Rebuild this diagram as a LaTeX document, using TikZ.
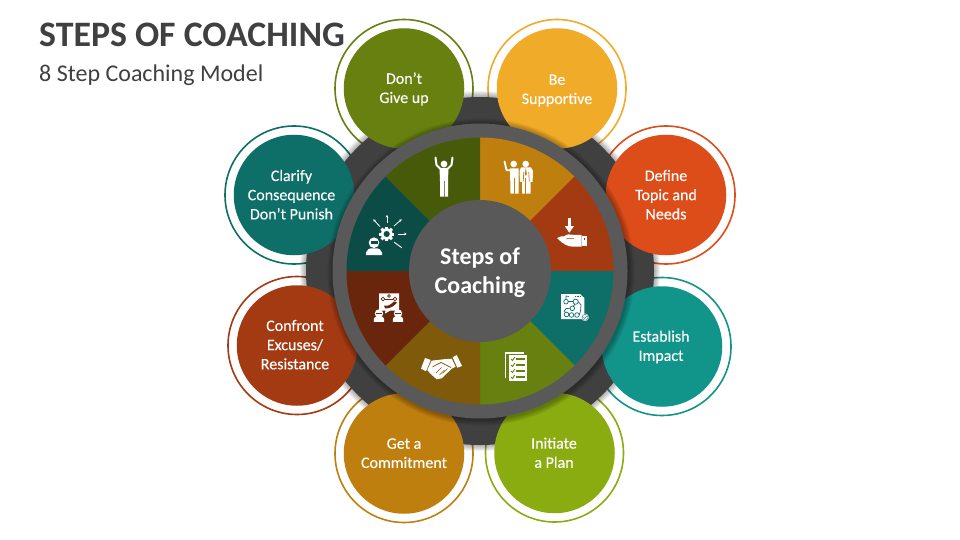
\documentclass[tikz,border=0pt]{standalone}
\usepackage{fontspec}
\usetikzlibrary{arrows.meta}
\setmainfont{Carlito}
\newfontfamily\labelfont[FakeBold=0.25]{Carlito}
\definecolor{darkdisc}{HTML}{404040}
\definecolor{ringgrey}{HTML}{595959}
\definecolor{wA}{HTML}{BF7F0F}
\definecolor{wB}{HTML}{A33A12}
\definecolor{wC}{HTML}{0E6E68}
\definecolor{wD}{HTML}{67800F}
\definecolor{wE}{HTML}{7F5A0B}
\definecolor{wF}{HTML}{6A260D}
\definecolor{wG}{HTML}{0B4D46}
\definecolor{wH}{HTML}{475A09}
\definecolor{cBe}{HTML}{F0AB28}
\definecolor{cDef}{HTML}{DC4D1A}
\definecolor{cEst}{HTML}{11948A}
\definecolor{cIni}{HTML}{8BAC10}
\tikzset{
  outerring/.style={circle,draw=#1,line width=1.6pt,fill=white,minimum size=138pt,inner sep=0pt},
  stepdisc/.style={circle,fill=#1,minimum size=120.5pt,inner sep=0pt},
  steptext/.style={text=white,align=center,font=\labelfont\fontsize{16}{19.2}\selectfont,inner sep=0pt},
  ico/.style={fill=white,draw=none},
  icoline/.style={draw=white,line width=#1,line cap=round,line join=round},
}
\newcommand{\softhalo}[4]{% x y r steps
  \foreach \k in {1,...,#4}{\fill[black,opacity=0.055] (#1,#2) circle ({#3+\k});}}
\begin{document}
\begin{tikzpicture}[x=1pt,y=-1pt]
\useasboundingbox (0,0) rectangle (960,540);
\fill[white] (0,0) rectangle (960,540);
% title
\node[anchor=base west,inner sep=0pt,text=darkdisc,font=\fontsize{35.8}{36}\selectfont\bfseries] (title) at (39,46.5) {STEPS OF COACHING};
\node[anchor=base west,inner sep=0pt,text=darkdisc,font=\fontsize{24}{24}\selectfont] (subtitle) at (39,82) {8 Step Coaching Model};
% outer thin rings
\node[outerring=wD] (r1) at (404,88.5) {};
\node[outerring=cBe] (r2) at (557,88.5) {};
\node[outerring=cDef] (r3) at (666,195) {};
\node[outerring=cEst] (r4) at (662,346.5) {};
\node[outerring=cIni] (r5) at (554.5,453) {};
\node[outerring=wA] (r6) at (404,453.5) {};
\node[outerring=wB] (r7) at (297,345.5) {};
\node[outerring=wC] (r8) at (294,195) {};
% dark disc
\softhalo{480}{271}{174}{6}
\fill[darkdisc] (480,271) circle (174);
% coloured circles
\node[stepdisc=wD] (c1) at (404,88.5) {};
\node[stepdisc=cBe] (c2) at (557,88.5) {};
\node[stepdisc=cDef] (c3) at (666,195) {};
\node[stepdisc=cEst] (c4) at (662,346.5) {};
\node[stepdisc=cIni] (c5) at (554.5,453) {};
\node[stepdisc=wA] (c6) at (404,453.5) {};
\node[stepdisc=wB] (c7) at (297,345.5) {};
\node[stepdisc=wC] (c8) at (294,195) {};
% labels
\node[steptext] (t1) at (404,89) {Don’t\\Give up};
\node[steptext] (t2) at (557,90.5) {Be\\Supportive};
\node[steptext] (t3) at (666,194.7) {Define\\Topic and\\Needs};
\node[steptext] (t4) at (661,347) {Establish\\Impact};
\node[steptext] (t5) at (554,452.7) {Initiate\\a Plan};
\node[steptext] (t6) at (404,453.2) {Get a\\Commitment};
\node[steptext] (t7) at (295,344.7) {Confront\\Excuses/\\Resistance};
\node[steptext] (t8) at (291.5,194.7) {Clarify\\Consequence\\Don’t Punish};
% main ring
\softhalo{481}{272}{147.5}{6}
\fill[ringgrey] (480,271) circle (147.5);
% wedges (angles run clockwise, y is down)
\foreach \a/\c in {-90/wA,-45/wB,0/wC,45/wD,90/wE,135/wF,180/wG,225/wH}{
  \fill[\c] (480,271) -- ++(\a:133.5) arc[start angle=\a,end angle=\a+45,radius=133.5] -- cycle;
}
\node[circle,fill=ringgrey,minimum size=142pt,inner sep=0pt] (hub) at (480,271) {};
\node[text=white,align=center,font=\fontsize{24}{29}\selectfont\bfseries,inner sep=0pt] (hubtext) at (480,273) {Steps of\\Coaching};
% icon: arms up
\fill[ico] (444,164) circle (3.4);
\fill[ico] (439.5,168) -- (448.5,168) -- (448,181) -- (448,196.7) -- (440,196.7) -- (440,181) -- cycle;
\draw[icoline=2pt] (440.5,169) -- (436.5,165) -- (435.5,157.5);
\draw[icoline=2pt] (447.5,169) -- (451.5,165) -- (452.5,157.5);
\fill[wH!70!white] (443.6,181) rectangle (444.4,196.7);
% icon: two men
\fill[ico] (513.7,164) circle (3.3);
\fill[ico] (525.7,164) circle (3.3);
\draw[icoline=1.8pt] (504.5,161.5) -- (506.5,170) -- (511,170.5);
\fill[ico] (510,168.5) -- (518.5,168.5) -- (518.5,193.5) -- (510.5,193.5) -- cycle;
\fill[wA] (513.9,178) rectangle (514.8,193.5);
\fill[wA] (519,166) -- (520.5,166) -- (520.5,194) -- (519,194) -- cycle;
\fill[ico] (521,167.5) -- (531,167.5) -- (533,171) -- (532.6,182) -- (530.7,182) -- (530.5,193.5) -- (522,193.5) -- (522,182) -- (520,182) -- (519.5,171) -- cycle;
\fill[wA] (525.4,178) rectangle (526.2,193.5);
\fill[wA] (523.4,172) -- (522.9,181.5) -- (523.6,181.5) -- (524.1,172) -- cycle;
\fill[wA] (528.4,172) -- (528.9,181.5) -- (529.6,181.5) -- (529.1,172) -- cycle;
\fill[wA] (525.8,168) -- (524.8,174) -- (525.8,176) -- (526.8,174) -- cycle;
% icon: hand with arrow
\fill[ico] (567.7,218) rectangle (571,226.5);
\fill[ico] (564.7,226) -- (574,226) -- (569.3,232.7) -- cycle;
\fill[ico] (557.2,238) .. controls (559,235.8) and (562,236.8) .. (564,236.3) .. controls (567,234) and (570,234) .. (573,234.8) -- (581.5,235) -- (581.5,246.5) -- (574,246.7) .. controls (568,247.2) and (562,243.5) .. cycle;
\fill[ico] (582.3,235.7) rectangle (586.8,245.8);
\fill[wB] (584,237.5) rectangle (585.3,239.5);
\draw[wB,line width=0.5pt] (566,238.8) -- (574,238.3);
% icon: flow document
\fill[ico] (561,294) -- (580,294) -- (584.3,298) -- (584.3,319) -- (561,319) -- cycle;
\begin{scope}[draw=wC,line width=0.7pt]
\draw (566,301.7) circle (2.3);
\draw (575.7,301.7) circle (2.6);
\draw (572.3,308.3) circle (2.3);
\draw (566.5,314.5) circle (2.3);
\draw (571.5,315) circle (2.3);
\draw (577,315) circle (2.3);
\draw (568.3,301.7) -- (573.1,301.7);
\draw (575,304.2) -- (573.2,306.2);
\draw (570,308.3) -- (566,308.6) -- (564.3,311) -- (565.5,312.4);
\draw (578.3,301.7) -- (581,305) -- (580.5,311) -- (579.3,315);
\draw (566,299.4) -- (566,296) -- (569,296.5);
\draw[densely dotted] (575,296.5) -- (581,296.5);
\end{scope}
\fill[ico] (585,317.3) circle (3.8);
\draw[wC,line width=0.4pt] (585,317.3) circle (3);
\draw[wC,line width=0.5pt] (583.5,317.4) -- (584.6,318.5) -- (586.6,316.2);
% icon: checklist
\draw[white,line width=1.2pt] (505.6,378) -- (505.6,352.9) -- (524,352.9);
\fill[ico] (509,355) rectangle (527,380.7);
\foreach \yy in {359,365,371,377}{
  \fill[wD] (516,\yy-0.7) rectangle (525,\yy+0.7);
  \draw[wD,line width=0.9pt] (511,\yy) -- (512.5,\yy+1.5) -- (514.7,\yy-1.8);
}
% icon: handshake
\fill[ico] (425,358) -- (430.7,360) -- (426,371.3) -- (421,368.7) -- cycle;
\fill[ico] (456.7,355) -- (462,366) -- (457.3,367.7) -- (452.7,357.3) -- cycle;
\fill[ico] (431.7,360.7) -- (443.3,359.3) -- (451.7,358.7) -- (455.7,366.7) -- (451.7,368.7) -- (441.7,378.3) -- (436.7,379.3) -- (430,373.3) -- (427.3,370) -- cycle;
\draw[wE,line width=0.7pt,line join=round] (451,367.5) -- (441,362.5) -- (436,365) -- (432.5,367);
\draw[wE,line width=0.4pt] (444.5,370) -- (439.5,375);
\draw[wE,line width=0.4pt] (441.5,367.5) -- (436,373);
\draw[wE,line width=0.4pt] (447.5,368.5) -- (442.5,373.5);
% icon: two people and a speech box
\fill[ico] (379,293.3) -- (399,293.3) -- (399,310.7) -- (390,310.7) -- (385,313.5) -- (385.5,310.7) -- (379,310.7) -- cycle;
\begin{scope}[draw=wF,line width=0.7pt]
\draw (383,299) circle (1.9);
\draw (395,299) circle (1.9);
\draw (389,296) circle (1.3);
\draw (385,299) -- (393,299);
\end{scope}
\fill[wF] (384,305.5) .. controls (388,306.5) and (390,305) .. (394,301.5) -- (397,302.5) .. controls (394,306) and (391,308.5) .. (385,308.5) -- cycle;
\foreach \px in {379,398}{
  \fill[ico] (\px,313.5) circle (4.2);
  \fill[wF] (\px-2.8,312.6) rectangle (\px+2.8,314.2);
  \fill[ico] (\px-5.2,321.8) -- (\px-5.2,319) .. controls (\px-5,317) and (\px-3,316.5) .. (\px-2,316.5) -- (\px+2,316.5) .. controls (\px+3,316.5) and (\px+5,317) .. (\px+5.2,319) -- (\px+5.2,321.8) -- cycle;
}
% icon: person and gear
\foreach \a in {0,45,...,315}{
  \fill[ico,rotate around={\a:(386.7,234)}] (385.2,226.6) rectangle (388.2,230);
}
\fill[ico,even odd rule] (386.7,234) circle (5.8) (386.7,234) circle (3.2);
\fill[ico] (374,242.7) circle (5.3);
\fill[wG] (370.5,241.3) rectangle (377.5,244);
\fill[ico] (366,255) -- (366,252.5) .. controls (366.5,249.5) and (370,248.3) .. (371,248.3) -- (377,248.3) .. controls (378,248.3) and (381.5,249.5) .. (382,252.5) -- (382,255) -- cycle;
\begin{scope}[draw=white,line width=0.8pt,-{Stealth[length=2.6pt,width=2.8pt]}]
\draw (387,222.7) -- (387,215);
\draw (394,226) -- (401.7,219.3);
\draw (398.3,234) -- (406.7,234);
\draw (380,226.7) -- (373.3,219.3);
\end{scope}
\draw[icoline=0.9pt] (394.3,242.3) -- (401.7,247.7);
\end{tikzpicture}
\end{document}
